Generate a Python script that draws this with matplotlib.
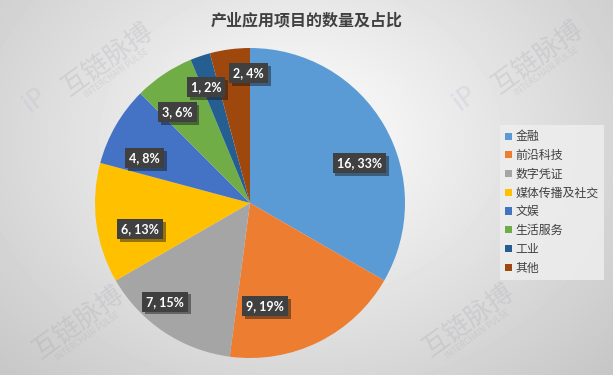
import numpy as np
import matplotlib.pyplot as plt
import matplotlib.patheffects as pe

plt.rcParams['font.family'] = ['Noto Sans CJK SC', 'DejaVu Sans']

categories = ['金融', '前沿科技', '数字凭证', '媒体传播及社交', '文娱', '生活服务', '工业', '其他']
counts = [16, 9, 7, 6, 4, 3, 1, 2]
percents = ['33%', '19%', '15%', '13%', '8%', '6%', '2%', '4%']
colors = ['#5B9BD5', '#ED7D31', '#A5A5A5', '#FFC000', '#4472C4', '#70AD47', '#255E91', '#9E480E']

fig = plt.figure(figsize=(6.13, 3.75), dpi=100)

# фон: радиальный градиент
bg = fig.add_axes([0, 0, 1, 1], zorder=0)
yy, xx = np.mgrid[0:375, 0:613]
d = np.sqrt(((xx - 300) / 420.0) ** 2 + ((yy - 140) / 330.0) ** 2)
shade = np.clip(1.0 - 0.22 * d, 0.74, 1.0)
bg.imshow(shade, cmap='gray', vmin=0, vmax=1, aspect='auto', extent=[0, 613, 375, 0])
bg.set_xlim(0, 613)
bg.set_ylim(375, 0)
bg.axis('off')

# водяные знаки
for wx, wy, logo in [(107, 59, True), (537, 57, True), (78, 322, False), (468, 320, False)]:
    bg.text(wx, wy, '互链脉搏', fontsize=19, color='#9a9aa8', alpha=0.22, rotation=36,
            ha='center', va='center')
    bg.text(wx + 10, wy + 14, 'INTERCHAIN PULSE', fontsize=6, color='#9a9aa8', alpha=0.22,
            rotation=36, ha='center', va='center')
    if logo:
        bg.text(wx - 72, wy + 42, 'iP', fontsize=19, color='#b8a8c8', alpha=0.22, rotation=36,
                ha='center', va='center', family=['DejaVu Sans'])

fig.text(0.5, 1 - 20 / 375, '产业应用项目的数量及占比', ha='center', va='center', fontsize=11.5,
         color='#404040', fontweight='bold')

R = 155
ax = fig.add_axes([(250 - R) / 613, (375 - 203 - R) / 375, 2 * R / 613, 2 * R / 375], zorder=1)
wedges, _ = ax.pie(counts, colors=colors, startangle=90, counterclock=False,
                   wedgeprops=dict(linewidth=0))
ax.set_xlim(-1, 1)
ax.set_ylim(-1, 1)
ax.set_aspect('equal')

# положение подписей (как "наилучшее" у Excel)
dist = [0.75, 0.67, 0.84, 0.73, 0.74, 0.75, 0.80, 0.84]
shift = [-10, -18, -7, 6, 7, 5, 2, -7]
total = sum(counts)
ang = 90.0
for i, w in enumerate(wedges):
    span = 360.0 * counts[i] / total
    mid = np.deg2rad(ang - span / 2 + shift[i])
    ang -= span
    x, y = dist[i] * np.cos(mid), dist[i] * np.sin(mid)
    t = ax.text(x, y, f'{counts[i]}, {percents[i]}', ha='center', va='center', fontsize=9,
                color='white', fontweight='bold', family=['Lato', 'DejaVu Sans'],
                bbox=dict(boxstyle='square,pad=0.32', fc='#404040', ec='none'))
    t.get_bbox_patch().set_path_effects([pe.SimplePatchShadow(offset=(2, -2), alpha=0.45), pe.Normal()])

leg = fig.legend(wedges, categories, loc='upper left', bbox_to_anchor=(500 / 613, 1 - 125 / 375),
                 frameon=True, fontsize=8.6, handlelength=0.55, handleheight=0.55, handletextpad=0.3,
                 labelspacing=0.48, borderpad=0.45, borderaxespad=0, fancybox=False)
leg.get_frame().set_facecolor('#eeeeee')
leg.get_frame().set_edgecolor('none')
leg.get_frame().set_alpha(0.85)
for txt in leg.get_texts():
    txt.set_color('#404040')

fig.savefig('out.png', dpi=100)
